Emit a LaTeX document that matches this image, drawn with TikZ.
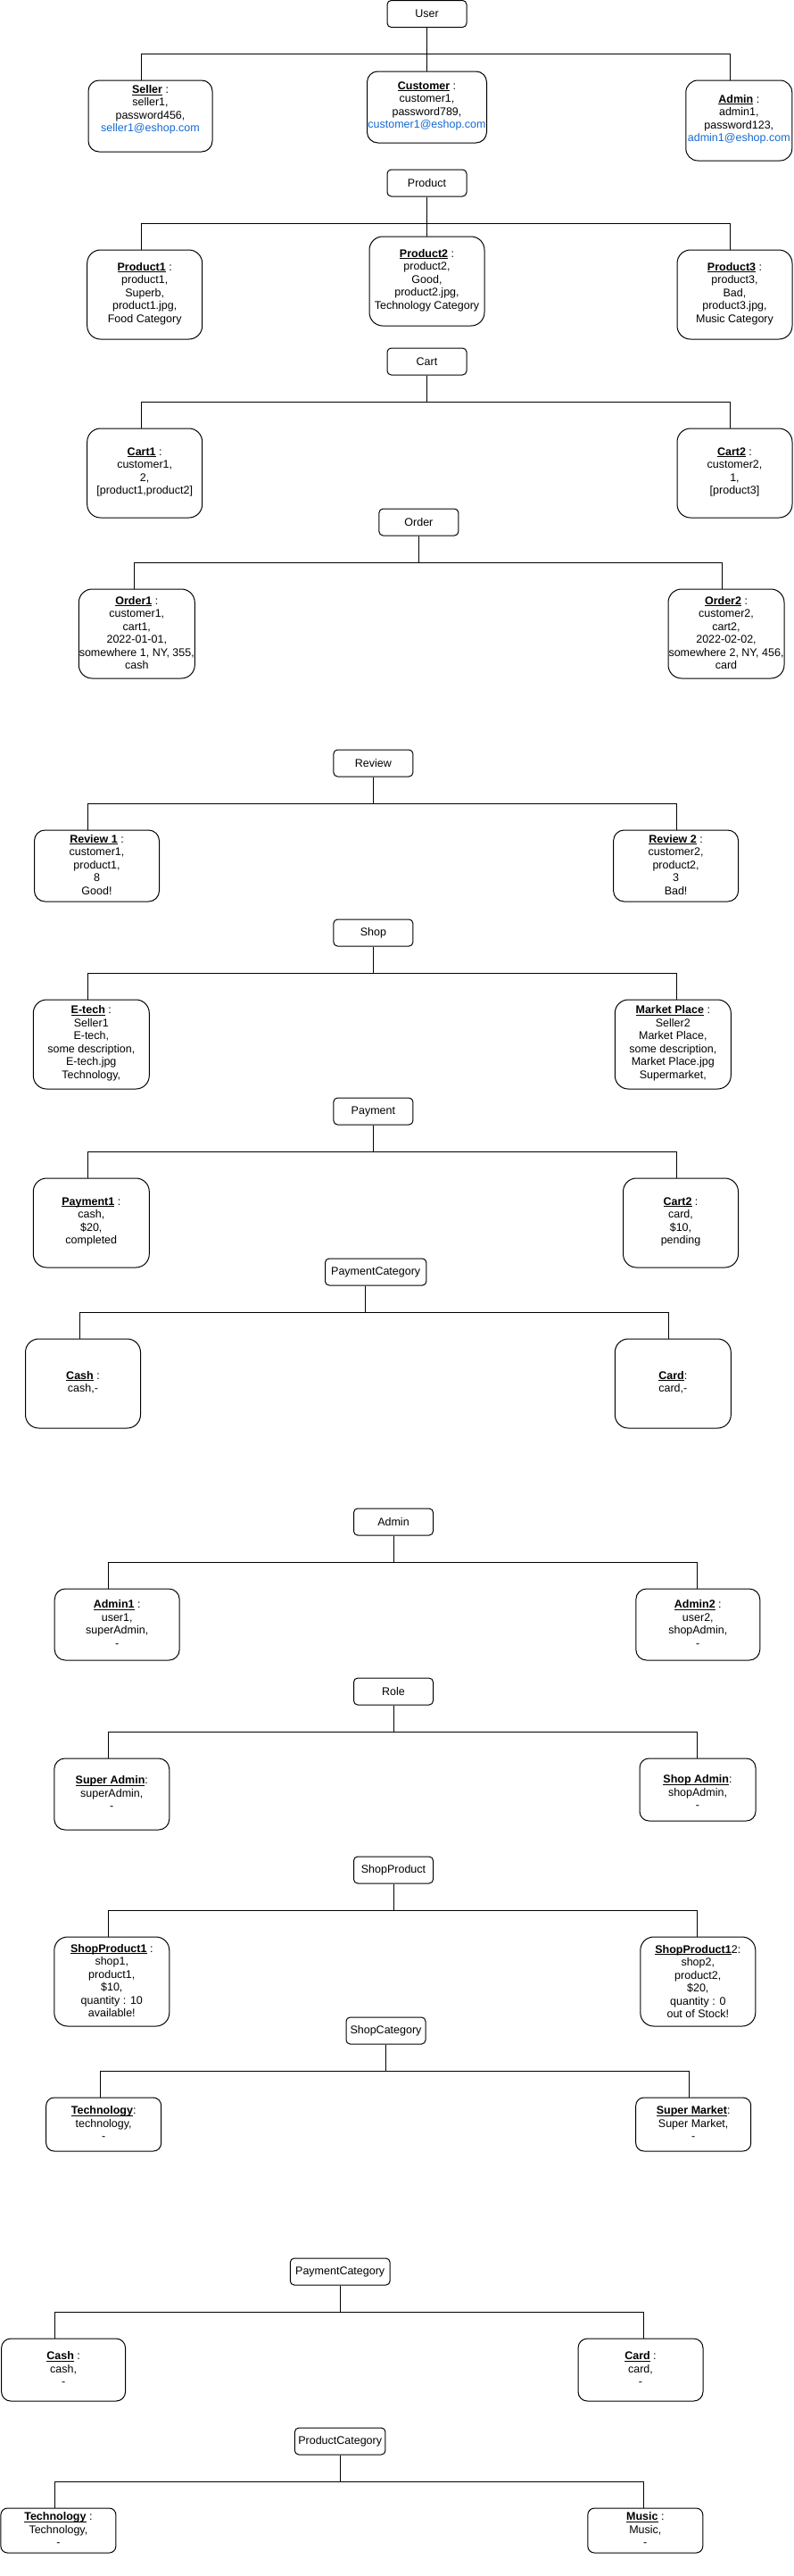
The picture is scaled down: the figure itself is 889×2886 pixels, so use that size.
\documentclass[tikz,border=0pt]{standalone}
\usepackage{fontspec}
\setmainfont{Liberation Sans}
\definecolor{mail}{RGB}{20,105,210}
\newcommand{\ent}{\fontsize{12.5}{14.5}\selectfont}
\newcommand{\nm}[1]{\underline{\smash{\textbf{#1}}}}
\tikzset{head/.style={draw, line width=1pt, rounded corners=4.5pt, minimum width=89pt, minimum height=30pt, inner sep=0pt, font=\ent}}
\tikzset{obj/.style 2 args={draw, line width=1pt, align=center, inner sep=0pt, minimum width=#1, minimum height=#2, rounded corners={0.15*#2}, font=\ent}}
\tikzset{wire/.style={line width=1pt}}

\begin{document}
\begin{tikzpicture}[x=1pt, y=-1pt]
        \useasboundingbox (0,0) rectangle (889,2886);

        \node[head] (user) at (478.5,15.5) {User};
        \node[obj={139pt}{80pt}] (sel) at (168.5,130) {\nm{Seller} :\\ seller1,\\ password456,\\ \textcolor{mail}{seller1@eshop.com}\\ ~};
        \node[obj={134pt}{80pt}] (cust) at (478.5,120) {\nm{Customer} :\\ customer1,\\ password789,\\ \textcolor{mail}{customer1@eshop.com}};
        \node[obj={119pt}{90pt}] (adm) at (828.3,135) {\nm{Admin} :\\ admin1,\\ password123,\\ \textcolor{mail}{admin1@eshop.com}};

        \node[head] (prod) at (478.5,205) {Product};
        \node[obj={129pt}{100pt}] (p1) at (162.2,330) {\nm{Product1} :\\ product1,\\ Superb,\\ product1.jpg,\\ Food Category};
        \node[obj={129pt}{100pt}] (p2) at (478.5,315) {\nm{Product2} :\\ product2,\\ Good,\\ product2.jpg,\\ Technology Category};
        \node[obj={129pt}{100pt}] (p3) at (823.5,330) {\nm{Product3} :\\ product3,\\ Bad,\\ product3.jpg,\\ Music Category};

        \node[head] (cart) at (478.5,405) {Cart};
        \node[obj={129pt}{100pt}] (c1) at (162.2,530) {\nm{Cart1} :\\ customer1,\\ 2,\\ {[product1,product2]}};
        \node[obj={129pt}{100pt}] (c2) at (823.5,530) {\nm{Cart2} :\\ customer2,\\ 1,\\ {[product3]}};

        \node[head] (ord) at (469.4,585) {Order};
        \node[obj={130pt}{100pt}] (o1) at (153.3,710) {\nm{Order1} :\\ customer1,\\ cart1,\\ 2022-01-01,\\ somewhere 1, NY, 355,\\ cash};
        \node[obj={130pt}{100pt}] (o2) at (814,710) {\nm{Order2} :\\ customer2,\\ cart2,\\ 2022-02-02,\\ somewhere 2, NY, 456,\\ card};

        \node[head] (rev) at (418.4,855) {Review};
        \node[obj={140pt}{80pt}] (r1) at (108.5,970) {\nm{Review 1} :\\ customer1,\\ product1,\\ 8\\ Good!};
        \node[obj={140pt}{80pt}] (r2) at (757.6,970) {\nm{Review 2} :\\ customer2,\\ product2,\\ 3\\ Bad!};

        \node[head] (shop) at (418.4,1045) {Shop};
        \node[obj={130pt}{100pt}] (s1) at (102.3,1170) {\nm{E-tech} :\\ Seller1\\ E-tech,\\ some description,\\ E-tech.jpg\\ Technology,};
        \node[obj={130pt}{100pt}] (s2) at (754.3,1170) {\nm{Market Place} :\\ Seller2\\ Market Place,\\ some description,\\ Market Place.jpg\\ Supermarket,};

        \node[head] (pay) at (418.4,1245) {Payment};
        \node[obj={130pt}{100pt}] (pa1) at (102.3,1370) {\nm{Payment1} :\\ cash,\\ \$20,\\ completed};
        \node[obj={129pt}{100pt}] (pa2) at (763,1370) {\nm{Cart2} :\\ card,\\ \$10,\\ pending};

        \node[head, minimum width=113.4pt] (pc) at (421.2,1425) {PaymentCategory};
        \node[obj={129pt}{100pt}] (k1) at (93,1550) {\nm{Cash} :\\ cash,-};
        \node[obj={130pt}{100pt}] (k2) at (754.3,1550) {\nm{Card}:\\ card,-};

        \node[head] (ad) at (441,1705) {Admin};
        \node[obj={140pt}{80pt}] (a1) at (131.2,1820) {\nm{Admin1} :\\ user1,\\ superAdmin,\\ -};
        \node[obj={139pt}{80pt}] (a2) at (782.3,1820) {\nm{Admin2} :\\ user2,\\ shopAdmin,\\ -};

        \node[head] (role) at (441,1895) {Role};
        \node[obj={129pt}{80pt}] (ro1) at (125.3,2010) {\nm{Super Admin}:\\ superAdmin,\\ -};
        \node[obj={130pt}{70pt}] (ro2) at (782,2005) {~\\ \nm{Shop Admin}:\\ shopAdmin,\\ -};

        \node[head] (spd) at (441,2095) {ShopProduct};
        \node[obj={129pt}{100pt}] (sp1) at (125.3,2220) {\nm{ShopProduct1} :\\ shop1,\\ product1,\\ \$10,\\ quantity : 10\\ available!};
        \node[obj={129pt}{100pt}] (sp2) at (782.3,2220) {\nm{ShopProduct1}2:\\ shop2,\\ product2,\\ \$20,\\ quantity : 0\\ out of Stock!};

        \node[head] (sc) at (432.5,2275) {ShopCategory};
        \node[obj={129pt}{60pt}] (t1) at (116.2,2380) {\nm{Technology}:\\ technology,\\ -};
        \node[obj={129pt}{60pt}] (t2) at (777.2,2380) {\nm{Super Market}:\\ Super Market,\\ -};

        \node[head, minimum width=111.7pt] (pc2) at (381.2,2545) {PaymentCategory};
        \node[obj={139pt}{70pt}] (m1) at (71.1,2655) {\nm{Cash} :\\ cash,\\ -};
        \node[obj={140pt}{70pt}] (m2) at (718,2655) {\nm{Card} :\\ card,\\ -};

        \node[head, minimum width=101.5pt] (pdc) at (381.2,2735) {ProductCategory};
        \node[obj={129pt}{50pt}] (n1) at (65.4,2835) {\nm{Technology} :\\ Technology,\\ -};
        \node[obj={129pt}{50pt}] (n2) at (723.3,2835) {\nm{Music} :\\ Music,\\ -};

        \coordinate (ub) at (478.5,60);
        \coordinate (pb) at (478.5,250);
        \coordinate (cb) at (478.5,450);
        \coordinate (ob) at (469.4,630);
        \coordinate (rb) at (418.4,900);
        \coordinate (sb) at (418.4,1090);
        \coordinate (payb) at (418.4,1290);
        \coordinate (pcb) at (409.3,1470);
        \coordinate (adb) at (441,1750);
        \coordinate (rob) at (441,1940);
        \coordinate (spb) at (441,2140);
        \coordinate (scb) at (432.5,2320);
        \coordinate (pc2b) at (381.2,2590);
        \coordinate (pdb) at (381.2,2780);

        \draw[wire] (user) -- (ub) -| ([xshift=-10.5pt]sel.north);
        \draw[wire] (ub) -- (cust);
        \draw[wire] (ub) -| ([xshift=-10.3pt]adm.north);

        \draw[wire] (prod) -- (pb) -| ([xshift=-4.2pt]p1.north);
        \draw[wire] (pb) -- (p2);
        \draw[wire] (pb) -| ([xshift=-5.5pt]p3.north);

        \draw[wire] (cart) -- (cb) -| ([xshift=-4.2pt]c1.north);
        \draw[wire] (cb) -| ([xshift=-5.5pt]c2.north);

        \draw[wire] (ord) -- (ob) -| ([xshift=-3.3pt]o1.north);
        \draw[wire] (ob) -| ([xshift=-4.5pt]o2.north);

        \draw[wire] (rev) -- (rb) -| ([xshift=-9.9pt]r1.north);
        \draw[wire] (rb) -| ([xshift=0.9pt]r2.north);

        \draw[wire] (shop) -- (sb) -| ([xshift=-3.7pt]s1.north);
        \draw[wire] (sb) -| ([xshift=4.2pt]s2.north);

        \draw[wire] (pay) -- (payb) -| ([xshift=-3.7pt]pa1.north);
        \draw[wire] (payb) -| ([xshift=-4.5pt]pa2.north);

        \draw[wire] ([xshift=-11.9pt]pc.south) -- (pcb) -| ([xshift=-3.4pt]k1.north);
        \draw[wire] (pcb) -| ([xshift=-4.9pt]k2.north);

        \draw[wire] (ad) -- (adb) -| ([xshift=-9.9pt]a1.north);
        \draw[wire] (adb) -| ([xshift=-1.1pt]a2.north);

        \draw[wire] (role) -- (rob) -| ([xshift=-4pt]ro1.north);
        \draw[wire] (rob) -| ([xshift=-0.8pt]ro2.north);

        \draw[wire] (spd) -- (spb) -| ([xshift=-4pt]sp1.north);
        \draw[wire] (spb) -| ([xshift=-1.1pt]sp2.north);

        \draw[wire] (sc) -- (scb) -| ([xshift=-4pt]t1.north);
        \draw[wire] (scb) -| ([xshift=-5.1pt]t2.north);

        \draw[wire] (pc2) -- (pc2b) -| ([xshift=-9.9pt]m1.north);
        \draw[wire] (pc2b) -| ([xshift=3.1pt]m2.north);

        \draw[wire] (pdc) -- (pdb) -| ([xshift=-4.2pt]n1.north);
        \draw[wire] (pdb) -| ([xshift=-2.2pt]n2.north);
    \end{tikzpicture}
\end{document}
